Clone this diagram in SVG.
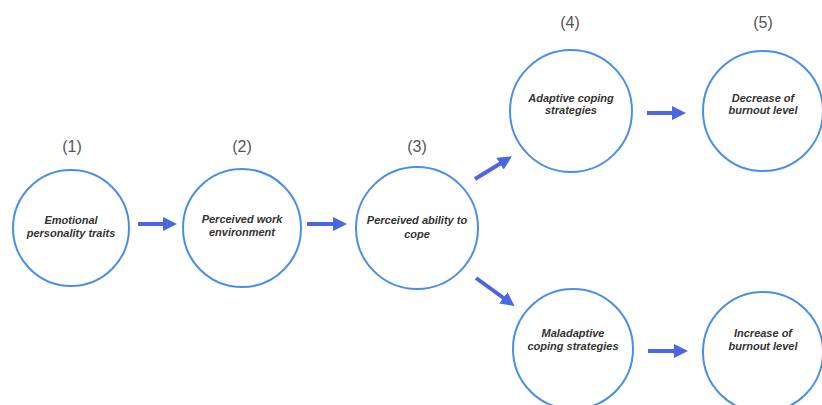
<svg xmlns="http://www.w3.org/2000/svg" width="822" height="405" viewBox="0 0 822 405">
<defs>
<style>
.node{fill:#fff;stroke:#4a8fe6;stroke-width:2}
.t{font-family:"Liberation Sans",Arial,sans-serif;font-size:11px;font-weight:bold;font-style:italic;fill:#333;text-anchor:middle}
.n{font-family:"Liberation Sans",Arial,sans-serif;font-size:16px;fill:#555;text-anchor:middle}
.c{stroke:#4a66e0;stroke-width:4;fill:none;marker-end:url(#ah)}
</style>
<marker id="ah" viewBox="0 0 10 10" refX="5" refY="5" markerWidth="3.5" markerHeight="3.5" orient="auto" markerUnits="strokeWidth">
<path d="M0,0 L10,5 L0,10 z" fill="#4a66e0"/>
</marker>
</defs>
<rect width="822" height="405" fill="#fff"/>
<g id="labels">
<text class="n" x="72" y="152">(1)</text>
<text class="n" x="242" y="152">(2)</text>
<text class="n" x="417" y="152">(3)</text>
<text class="n" x="570" y="28">(4)</text>
<text class="n" x="763" y="28">(5)</text>
</g>
<g id="connectors">
<line class="c" x1="138" y1="224" x2="170" y2="224"/>
<line class="c" x1="307" y1="224" x2="340" y2="224"/>
<line class="c" x1="475" y1="179" x2="506" y2="160"/>
<line class="c" x1="476" y1="278" x2="509" y2="302"/>
<line class="c" x1="647" y1="113" x2="679" y2="113"/>
<line class="c" x1="648" y1="351" x2="681" y2="351"/>
</g>
<g id="n1">
<circle class="node" cx="71" cy="228" r="58"/>
<text class="t" x="71" y="224">Emotional</text>
<text class="t" x="71" y="237">personality traits</text>
</g>
<g id="n2">
<circle class="node" cx="242" cy="228" r="59"/>
<text class="t" x="242" y="223">Perceived work</text>
<text class="t" x="242" y="236">environment</text>
</g>
<g id="n3">
<circle class="node" cx="417" cy="228" r="61"/>
<text class="t" x="417" y="224">Perceived ability to</text>
<text class="t" x="417" y="238">cope</text>
</g>
<g id="n4">
<circle class="node" cx="571" cy="111" r="61"/>
<text class="t" x="571" y="102">Adaptive coping</text>
<text class="t" x="571" y="114">strategies</text>
</g>
<g id="n5">
<circle class="node" cx="763" cy="111" r="60"/>
<text class="t" x="763" y="102">Decrease of</text>
<text class="t" x="763" y="114">burnout level</text>
</g>
<g id="n6">
<circle class="node" cx="573" cy="349" r="60"/>
<text class="t" x="573" y="337">Maladaptive</text>
<text class="t" x="573" y="350">coping strategies</text>
</g>
<g id="n7">
<circle class="node" cx="763" cy="352" r="60"/>
<text class="t" x="763" y="337">Increase of</text>
<text class="t" x="763" y="350">burnout level</text>
</g>
</svg>
